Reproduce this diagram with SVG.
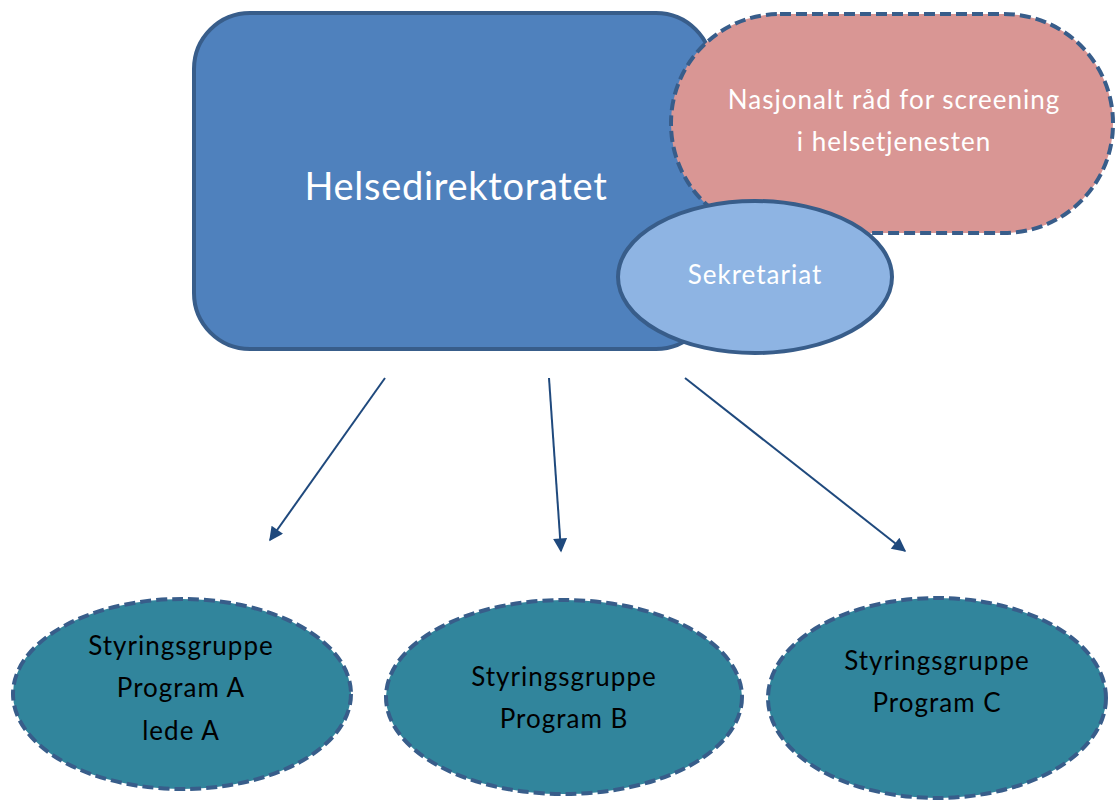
<svg xmlns="http://www.w3.org/2000/svg" width="1115" height="800" viewBox="0 0 1115 800">
<defs>
<style>
.t{font-family:Lato,"Open Sans","DejaVu Sans",sans-serif;text-anchor:middle}
.w{fill:#ffffff}
.s{font-size:26px;letter-spacing:1px}
.k{fill:#000000}
.dash{stroke:#385d8a;stroke-width:4;stroke-dasharray:11 5}
.conn{stroke:#1f497d;stroke-width:2;fill:none}
</style>
<marker id="ah" viewBox="0 0 10 10" refX="9" refY="5" markerWidth="8" markerHeight="7" orient="auto" markerUnits="strokeWidth">
<path d="M0,0 L10,5 L0,10 z" fill="#1f497d"/>
</marker>
</defs>
<rect width="1115" height="800" fill="#ffffff"/>
<g id="helsedirektoratet">
<rect x="194" y="13" width="518" height="336" rx="56" ry="56" fill="#4f81bd" stroke="#385d8a" stroke-width="4"/>
<text class="t w" x="456" y="200" font-size="38" letter-spacing="0.7">Helsedirektoratet</text>
</g>
<g id="nasjonalt-rad">
<rect x="671" y="14" width="442" height="219" rx="109" ry="109" fill="#d99694" class="dash"/>
<text class="t w s" x="894" y="109">Nasjonalt råd for screening</text>
<text class="t w s" x="894" y="151">i helsetjenesten</text>
</g>
<g id="sekretariat">
<ellipse cx="755" cy="277" rx="137" ry="76" fill="#8eb4e3" stroke="#385d8a" stroke-width="4"/>
<text class="t w s" x="755" y="284">Sekretariat</text>
</g>
<g id="connectors">
<line class="conn" x1="385" y1="378" x2="270" y2="540" marker-end="url(#ah)"/>
<line class="conn" x1="549" y1="378" x2="561" y2="551" marker-end="url(#ah)"/>
<line class="conn" x1="685" y1="378" x2="905" y2="551" marker-end="url(#ah)"/>
</g>
<g id="program-a">
<ellipse cx="182" cy="694" rx="169" ry="95" fill="#31859c" class="dash"/>
<text class="t k s" x="181" y="655">Styringsgruppe</text>
<text class="t k s" x="181" y="697">Program A</text>
<text class="t k s" x="181" y="740">lede A</text>
</g>
<g id="program-b">
<ellipse cx="564" cy="697" rx="178" ry="97" fill="#31859c" class="dash"/>
<text class="t k s" x="564" y="686">Styringsgruppe</text>
<text class="t k s" x="564" y="728">Program B</text>
</g>
<g id="program-c">
<ellipse cx="937" cy="698" rx="169" ry="100" fill="#31859c" class="dash"/>
<text class="t k s" x="937" y="670">Styringsgruppe</text>
<text class="t k s" x="937" y="712">Program C</text>
</g>
</svg>
